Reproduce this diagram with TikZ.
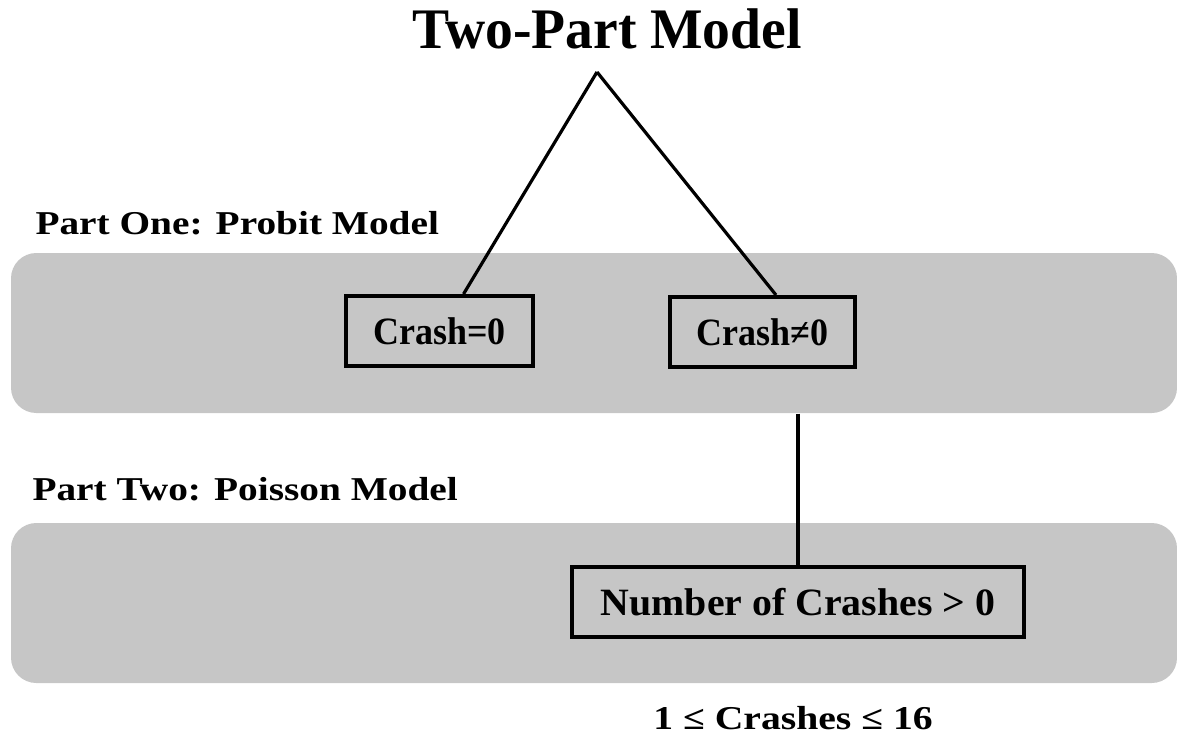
\documentclass[tikz,border=0pt]{standalone}
\usepackage{fontspec}
\setmainfont{Liberation Serif}
\usetikzlibrary{positioning}

\definecolor{bandgray}{RGB}{198,198,198}

\newcommand{\widetext}[2]{\scalebox{#1}[1]{#2}}

\tikzset{every picture/.style={line width=0.75pt}}
\tikzset{
  band/.style={fill=bandgray, draw=none, rounded corners=19pt, minimum width=874.5pt, minimum height=120pt, inner sep=0pt},
  crashbox/.style={draw=black, line width=3pt, minimum height=52.5pt, inner sep=0pt, font=\fontsize{29}{34}\selectfont\bfseries},
  partlabel/.style={inner sep=0pt, font=\fontsize{25}{30}\selectfont\bfseries},
  branch/.style={line width=2.4pt}
}

\begin{document}
\begin{tikzpicture}[x=0.75pt,y=0.75pt,yscale=-1,xscale=1]
	%set diagram to the size of the original
	\useasboundingbox (0,0) rectangle (1177,736);
	
	%Title
	\node (title) [anchor=base, inner sep=0pt, font=\fontsize{43}{50}\selectfont\bfseries] at (607,48) {\widetext{0.97}{Two-Part Model}};
	\coordinate (apex) at (597,72);
	
	%Bands
	\node (probit) [band] at (594,333) {};
	\node (poisson) [band] at (594,603) {};
	
	%Labels of the two parts
	\node (partone) [partlabel, anchor=base west] at (35,234) {\widetext{1.18}{Part One: Probit Model}};
	\node (parttwo) [partlabel, anchor=base west] at (32,500) {\widetext{1.18}{Part Two: Poisson Model}};
	
	%Boxes
	\node (crashzero) [crashbox, minimum width=140pt] at (439.5,331) {\widetext{0.93}{Crash=0}};
	\node (crashnonzero) [crashbox, minimum width=138.75pt] at (762.5,332) {\widetext{0.93}{Crash≠0}};
	\node (number) [crashbox, minimum width=339pt] at (798,602) {\widetext{1.03}{Number of Crashes > 0}};
	
	%Range
	\node (range) [partlabel, anchor=base] at (793,729) {\widetext{1.19}{1 ≤ Crashes ≤ 16}};
	
	%Connectors
	\draw [branch] (apex) -- (crashzero.57);
	\draw [branch] (apex) -- (crashnonzero.70);
	\draw [branch] (probit.south -| number.north) -- (number.north);
	
\end{tikzpicture}
\end{document}
